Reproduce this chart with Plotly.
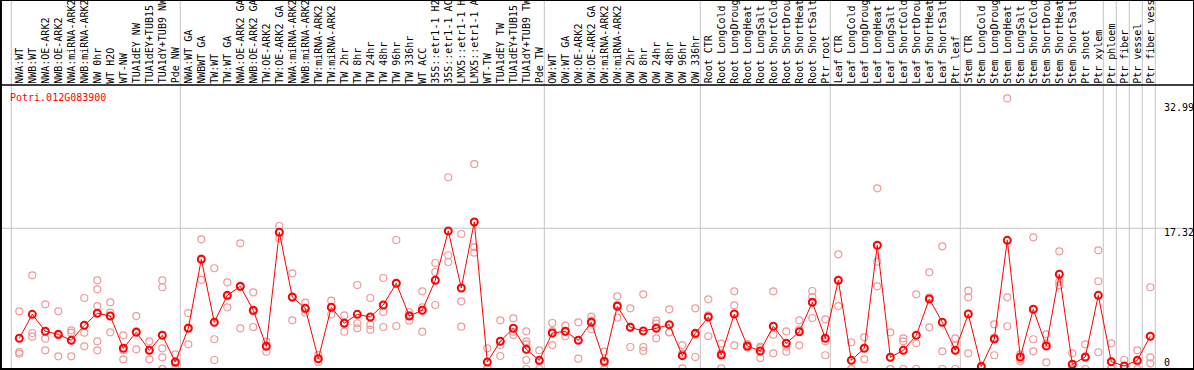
import plotly.graph_objects as go

categories = [
    "NWA:WT", "NWB:WT", "NWA:OE-ARK2", "NWB:OE-ARK2", "NWA:miRNA-ARK2", "NWB:miRNA-ARK2",
    "NW 0hr", "WT H2O", "WT-NW", "TUA1dEY NW", "TUA1dEY+TUB15 NW", "TUA1dY+TUB9 NW", "Pde NW",
    "NWA:WT GA", "NWBWT GA", "TW:WT", "TW:WT GA", "NWA:OE-ARK2 GA", "NWB:OE-ARK2 GA",
    "TW:OE-ARK2", "TW:OE-ARK2 GA", "NWA:miRNA-ARK2", "NWB:miRNA-ARK2", "TW:miRNA-ARK2",
    "TW:miRNA-ARK2", "TW 2hr", "TW 8hr", "TW 24hr", "TW 48hr", "TW 96hr", "TW 336hr", "WT ACC",
    "35S::etr1-1 H2O", "35S::etr1-1 ACC", "LMX5::etr1-1 H2O", "LMX5::etr1-1 ACC", "WT-TW",
    "TUA1dEY TW", "TUA1dEY+TUB15 TW", "TUA1dY+TUB9 TW", "Pde TW",
    "OW:WT", "OW:WT GA", "OW:OE-ARK2", "OW:OE-ARK2 GA", "OW:miRNA-ARK2", "OW:miRNA-ARK2",
    "OW 2hr", "OW 8hr", "OW 24hr", "OW 48hr", "OW 96hr", "OW 336hr",
    "Root CTR", "Root LongCold", "Root LongDrought", "Root LongHeat", "Root LongSalt",
    "Root ShortCold", "Root ShortDrought", "Root ShortHeat", "Root ShortSalt", "Ptr root",
    "Leaf CTR", "Leaf LongCold", "Leaf LongDrought", "Leaf LongHeat", "Leaf LongSalt",
    "Leaf ShortCold", "Leaf ShortDrought", "Leaf ShortHeat", "Leaf ShortSalt", "Ptr leaf",
    "Stem CTR", "Stem LongCold", "Stem LongDrought", "Stem LongHeat", "Stem LongSalt",
    "Stem ShortCold", "Stem ShortDrought", "Stem ShortHeat", "Stem ShortSalt", "Ptr shoot",
    "Ptr xylem", "Ptr phloem", "Ptr fiber", "Ptr vessel", "Ptr fiber vessel",
]

group_starts = [0, 13, 41, 53, 63, 73, 84, 85, 86, 87, 88]

means = [
    3.78, 6.73, 4.64, 4.27, 3.53, 5.38, 6.86, 6.52, 2.55, 4.52, 2.30, 4.15, 0.86,
    5.01, 13.50, 5.75, 9.07, 10.18, 7.23, 2.79, 16.83, 8.86, 7.47, 1.27, 7.59, 5.63, 6.73,
    6.40, 7.88, 10.55, 6.52, 7.23, 10.92, 16.99, 9.97, 18.09, 0.86, 3.41, 5.01, 2.42, 1.07,
    4.43, 4.64, 3.53, 5.75, 0.95, 7.72, 5.13, 4.68, 5.01, 5.46, 1.64, 4.39,
    6.40, 1.72, 6.77, 2.83, 2.22, 5.26, 3.16, 4.59, 8.21, 3.78,
    10.92, 1.07, 2.55, 15.23, 1.44, 2.30, 4.15, 8.62, 5.75, 2.30,
    6.77, 0.30, 3.69, 15.84, 1.48, 7.35, 2.83, 11.66, 0.58, 1.48, 9.07, 0.90, 0.37, 1.07, 4.03,
]

replicates = [
    [7.10, 2.09, 1.89], [11.53, 4.43, 3.98], [7.96, 3.73, 2.30], [7.10, 4.15, 1.56],
    [4.76, 4.47, 1.56], [8.74, 4.47, 2.79], [10.92, 9.81, 7.75, 3.41, 2.30], [8.21, 6.93, 4.52],
    [4.15, 2.31, 1.19], [6.52, 4.62, 2.42], [3.41, 2.30, 1.19], [10.92, 10.06, 2.55, 1.44, 0, 0],
    [1.81, 0.69, 0.08],
    [6.89, 5.10, 3.04], [15.96, 13.58, 10.96], [12.40, 3.66, 1.11], [10.67, 8.95, 7.59],
    [15.47, 10.06, 5.01], [9.44, 7.08, 5.17], [3.37, 2.87, 2.13], [17.60, 16.80, 16.09],
    [11.78, 8.81, 5.99], [8.16, 7.32, 6.93], [1.72, 1.23, 0.86], [8.41, 7.63, 6.73],
    [6.61, 5.69, 4.59], [10.34, 5.63, 5.01], [8.74, 5.42, 4.84], [11.20, 7.02, 5.17],
    [15.88, 10.48, 5.29], [6.98, 6.63, 5.95], [9.56, 7.59, 4.59], [13.05, 11.94, 7.88],
    [23.60, 14.00, 13.17], [16.62, 8.33, 5.21], [25.23, 14.98, 14.32], [2.55, 0.08, 0],
    [5.99, 2.95, 1.60], [6.24, 4.60, 4.19], [4.64, 3.41, 3.04, 1.11, 0], [2.30, 0.91, 0],
    [5.66, 4.68, 2.95], [5.33, 4.56, 4.03], [5.75, 3.57, 1.27], [6.44, 5.92, 4.89],
    [2.13, 0.72, 0], [8.95, 7.89, 6.32], [7.47, 5.21, 2.71], [9.19, 2.71, 2.22],
    [5.95, 5.58, 3.78], [7.35, 4.52, 4.51], [2.95, 1.89, 0.08], [7.47, 4.22, 1.48],
    [8.58, 6.59, 4.03], [3.12, 1.96, 0.08], [9.56, 7.84, 2.92], [3.08, 2.75, 2.66],
    [2.75, 2.56, 1.35], [9.56, 4.22, 1.93], [4.64, 2.75, 2.13], [5.99, 4.86, 2.92],
    [9.60, 8.86, 6.28], [6.12, 3.41, 1.69],
    [14.12, 10.89, 7.75], [3.29, 0, 0], [3.90, 2.56, 1.19], [22.24, 13.21, 10.18],
    [4.52, 0, 0], [3.78, 3.41, 0], [9.19, 3.16, 0], [11.90, 8.83, 5.13], [15.10, 2.18, 0],
    [3.78, 2.92, 0],
    [9.64, 8.82, 1.93], [0.40, 0.30, 0.20], [5.50, 3.88, 1.69], [33.30, 8.82, 5.26],
    [1.81, 1.19, 0.95], [16.21, 3.66, 2.18], [4.27, 3.16, 0.82], [14.49, 10.75, 10.30],
    [1.93, 0.08, 0], [3.04, 1.40, 0], [14.61, 10.80, 2.06], [3.16, 0.08, 0], [1.11, 0, 0],
    [2.30, 0.90, 0], [10.06, 1.44, 0.70],
]

gene_name = "Potri.012G083900"
y_tick_labels = ["32.99", "17.32", "0"]
y_tick_label_pos = [32.25, 16.86, 0.86]
grid_value = 17.32

FONT = "DejaVu Sans Mono"
W, H = 1194, 370
X0_PX, STEP_PX = 19.3, 13.0
PX_PER_UNIT = 8.124
BOTTOM_PX = 369


def px_to_x(px):
    return (px - X0_PX) / STEP_PX


def px_to_y(py):
    return (BOTTOM_PX - py) / PX_PER_UNIT


x_idx = list(range(len(categories)))
rep_x = [i for i, reps in enumerate(replicates) for _ in reps]
rep_y = [v for reps in replicates for v in reps]

fig = go.Figure()
fig.add_trace(go.Scatter(
    x=rep_x, y=rep_y, mode="markers",
    marker=dict(symbol="circle-open", size=7, color="#EE9A9A", line=dict(width=1.2, color="#EE9A9A")),
    hoverinfo="skip", cliponaxis=True,
))
fig.add_trace(go.Scatter(
    x=x_idx, y=means, mode="lines+markers",
    line=dict(color="#FF0000", width=1),
    marker=dict(symbol="circle-open", size=7, color="#FF0000", line=dict(width=2, color="#FF0000")),
    text=categories, cliponaxis=True,
))

shapes = []
for s in group_starts:
    xv = s - 0.615
    shapes.append(dict(type="line", xref="x", yref="paper", x0=xv, x1=xv, y0=0, y1=1,
                       line=dict(color="#C4C4C4", width=1), layer="below"))
shapes.append(dict(type="line", xref="paper", yref="y", x0=0, x1=1, y0=grid_value, y1=grid_value,
                   line=dict(color="#C4C4C4", width=1), layer="below"))
sep_y = px_to_y(85)
shapes.append(dict(type="line", xref="paper", yref="y", x0=0, x1=1, y0=sep_y, y1=sep_y,
                   line=dict(color="black", width=1.5)))
shapes.append(dict(type="rect", xref="paper", yref="paper", x0=0.0008, x1=1, y0=0, y1=1,
                   line=dict(color="black", width=2)))

annotations = []
label_y = px_to_y(84.5)
for i, c in enumerate(categories):
    annotations.append(dict(x=i, y=label_y, xref="x", yref="y", text=c, showarrow=False,
                            textangle=-90, xanchor="center", yanchor="bottom",
                            font=dict(family=FONT, size=10, color="black"), borderpad=0))
annotations.append(dict(x=px_to_x(8), y=px_to_y(97), xref="x", yref="y", text=gene_name,
                        showarrow=False, xanchor="left", yanchor="middle",
                        font=dict(family=FONT, size=10, color="#FF0000")))
for t, v in zip(y_tick_labels, y_tick_label_pos):
    annotations.append(dict(x=px_to_x(1162), y=v, xref="x", yref="y", text=t, showarrow=False,
                            xanchor="left", yanchor="middle",
                            font=dict(family=FONT, size=10, color="black")))

fig.update_layout(
    width=W, height=H,
    margin=dict(l=0, r=0, t=0, b=H - BOTTOM_PX, pad=0),
    paper_bgcolor="white", plot_bgcolor="white",
    showlegend=False,
    hovermode=False,
    xaxis=dict(range=[px_to_x(0), px_to_x(W)], visible=False, showgrid=False, zeroline=False),
    yaxis=dict(range=[0, px_to_y(0)], visible=False, showgrid=False, zeroline=False),
    shapes=shapes, annotations=annotations,
)

fig.write_html(
    "out.html",
    config={"displayModeBar": False, "staticPlot": True},
    post_script="document.body.style.margin='0px';document.body.style.overflow='hidden';",
)
